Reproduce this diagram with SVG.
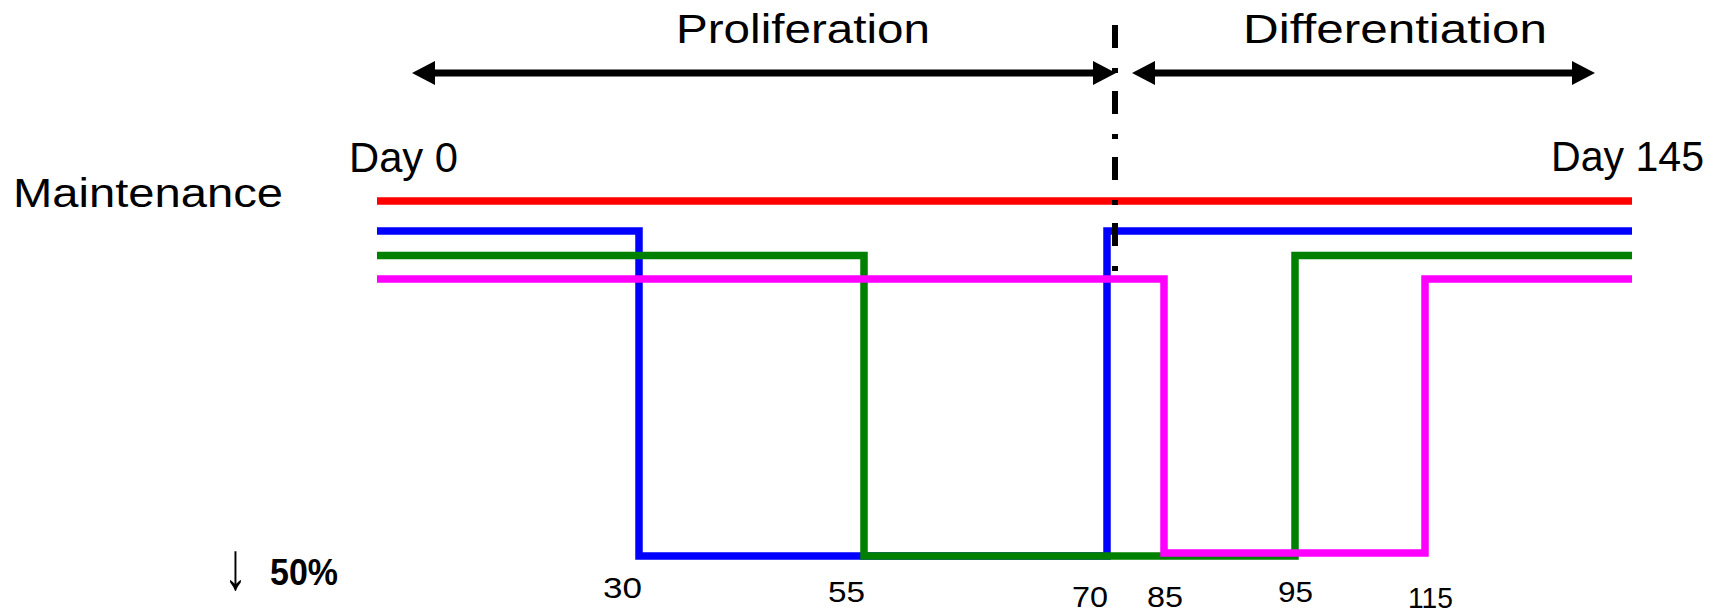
<svg xmlns="http://www.w3.org/2000/svg" width="1719" height="612" viewBox="0 0 1719 612">
  <style>
    .lbl { font-family: "Liberation Sans", Arial, sans-serif; fill: #000; }
    .hand { font-size: 40px; }
    .day { font-size: 43px; }
    .num { font-size: 30px; }
    .trace { fill: none; stroke-width: 7.5; stroke-linejoin: miter; stroke-linecap: butt; }
    .span { stroke: #000; stroke-width: 7; fill: none; marker-start: url(#head); marker-end: url(#head); }
  </style>
  <defs>
    <marker id="head" markerUnits="userSpaceOnUse" viewBox="0 0 23 24" markerWidth="23" markerHeight="24" refX="0" refY="12" orient="auto-start-reverse">
      <path d="M0,0 L23,12 L0,24 z" fill="#000"/>
    </marker>
  </defs>
  <rect width="1719" height="612" fill="#fff"/>

  <!-- phase headings -->
  <g id="phase-proliferation">
    <text class="lbl hand" x="676" y="43" textLength="254" lengthAdjust="spacingAndGlyphs">Proliferation</text>
  </g>
  <g id="phase-differentiation">
    <text class="lbl hand" x="1243" y="43" textLength="304" lengthAdjust="spacingAndGlyphs">Differentiation</text>
  </g>

  <!-- row and axis labels -->
  <g id="label-maintenance">
    <text class="lbl" x="13" y="207" font-size="40" textLength="270" lengthAdjust="spacingAndGlyphs">Maintenance</text>
  </g>
  <g id="label-day0">
    <text class="lbl day" x="349" y="172" textLength="109" lengthAdjust="spacingAndGlyphs">Day 0</text>
  </g>
  <g id="label-day145">
    <text class="lbl day" x="1551" y="171" textLength="153" lengthAdjust="spacingAndGlyphs">Day 145</text>
  </g>
  <g id="label-reduction">
    <text class="lbl" transform="translate(224,589) scale(1.1,1.6)" x="0" y="0" font-size="42" font-family="DejaVu Sans, sans-serif">↓</text>
    <text class="lbl" x="270" y="585" font-size="36" font-weight="bold" textLength="68" lengthAdjust="spacingAndGlyphs">50%</text>
  </g>

  <!-- day ticks -->
  <g id="ticks">
    <text class="lbl num" x="603" y="598" textLength="39" lengthAdjust="spacingAndGlyphs">30</text>
    <text class="lbl num" x="828" y="602" textLength="37" lengthAdjust="spacingAndGlyphs">55</text>
    <text class="lbl num" x="1072" y="607" textLength="36" lengthAdjust="spacingAndGlyphs">70</text>
    <text class="lbl num" x="1147" y="607" textLength="36" lengthAdjust="spacingAndGlyphs">85</text>
    <text class="lbl num" x="1278" y="602" textLength="35" lengthAdjust="spacingAndGlyphs">95</text>
    <text class="lbl num" x="1408" y="608" textLength="45" lengthAdjust="spacingAndGlyphs">115</text>
  </g>

  <!-- schedule traces -->
  <g id="trace-red">
    <path class="trace" stroke="#ff0000" d="M377,201 H1632"/>
  </g>
  <g id="trace-blue">
    <path class="trace" stroke="#0000ff" d="M377,231 H639 V556 H1107 V231 H1632"/>
  </g>
  <g id="trace-green">
    <path class="trace" stroke="#008000" d="M377,255.5 H864 V556 H1295 V255.5 H1632"/>
  </g>
  <g id="trace-magenta">
    <path class="trace" stroke="#ff00ff" d="M377,279 H1164 V553 H1425 V279 H1632"/>
  </g>

  <!-- connectors: phase spans and boundary -->
  <g id="connectors">
    <path class="span" d="M435,73 H1093"/>
    <path class="span" d="M1155,73 H1572"/>
    <path d="M1115,25 V271" stroke="#000" stroke-width="6" stroke-dasharray="23 20 5 18" fill="none"/>
  </g>
</svg>
